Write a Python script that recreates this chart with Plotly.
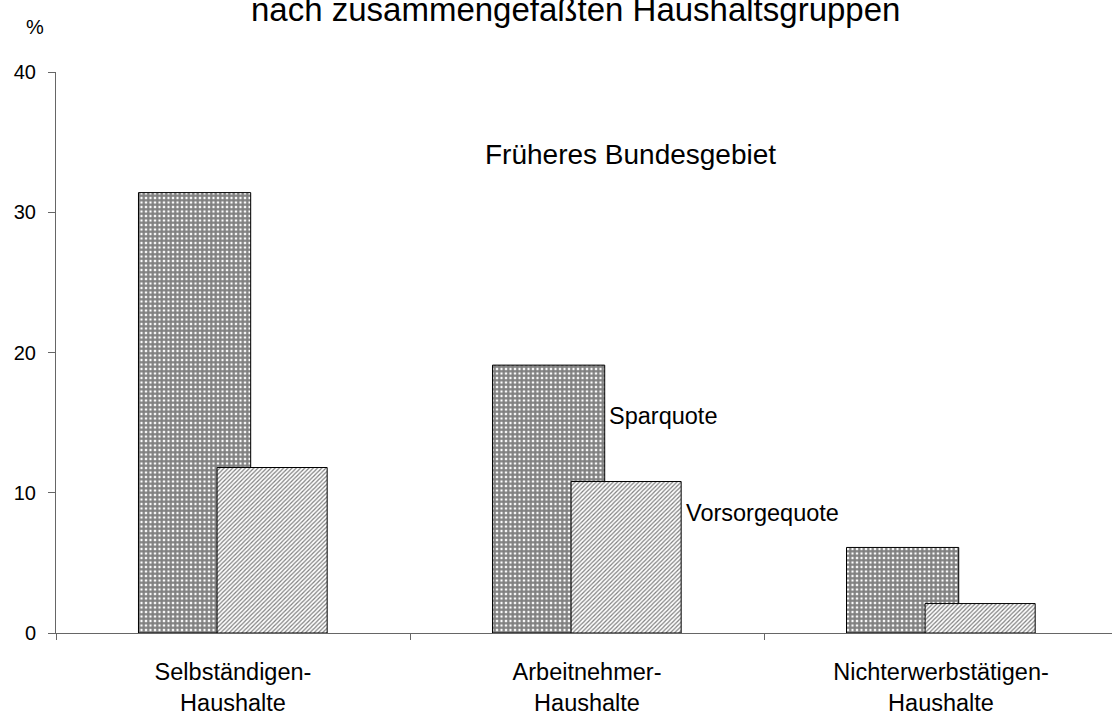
import plotly.graph_objects as go

categories = ["Selbständigen-<br>Haushalte", "Arbeitnehmer-<br>Haushalte", "Nichterwerbstätigen-<br>Haushalte"]
sparquote = [31.4, 19.1, 6.1]
vorsorgequote = [11.8, 10.8, 2.1]

FONT = "Liberation Sans, Arial, sans-serif"

fig = go.Figure()
fig.add_trace(go.Bar(
    x=categories, y=sparquote, name="Sparquote",
    offset=-0.267, width=0.317,
    marker=dict(color="white", line=dict(color="black", width=1),
                pattern=dict(shape="+", size=4.5, solidity=0.75, fgcolor="black", bgcolor="white")),
))
fig.add_trace(go.Bar(
    x=categories, y=vorsorgequote, name="Vorsorgequote",
    offset=-0.045, width=0.311,
    marker=dict(color="white", line=dict(color="black", width=1),
                pattern=dict(shape="/", size=3, solidity=0.4, fgcolor="black", bgcolor="white")),
))

fig.add_annotation(x=1.124, y=34.1, text="Früheres Bundesgebiet", showarrow=False,
                   font=dict(size=28, color="black", family=FONT), xanchor="center", yanchor="middle")
fig.add_annotation(x=1.057, y=15.5, text="Sparquote", showarrow=False,
                   font=dict(size=23.5, color="black", family=FONT), xanchor="left", yanchor="middle")
fig.add_annotation(x=1.275, y=8.56, text="Vorsorgequote", showarrow=False,
                   font=dict(size=23.5, color="black", family=FONT), xanchor="left", yanchor="middle")
fig.add_annotation(x=-0.02, y=1.08, xref="paper", yref="paper", text="%", showarrow=False,
                   font=dict(size=20, color="black", family=FONT), xanchor="center", yanchor="middle")
fig.add_annotation(x=0.492, y=1.112, xref="paper", yref="paper",
                   text="nach zusammengefaßten Haushaltsgruppen", showarrow=False,
                   font=dict(size=33, color="black", family=FONT), xanchor="center", yanchor="middle")

fig.update_layout(
    width=1112, height=715,
    margin=dict(l=56, r=0, t=72, b=82),
    paper_bgcolor="white", plot_bgcolor="white",
    barmode="overlay", showlegend=False,
    font=dict(family=FONT, color="black", size=20),
)
fig.update_xaxes(
    type="category", range=[-0.5, 2.483], tickson="boundaries",
    ticks="outside", ticklen=6, tickcolor="#666", showline=True, linecolor="#666", linewidth=1,
    showgrid=False, tickfont=dict(size=23.5, family=FONT, color="black"), ticklabelstandoff=18,
)
fig.update_yaxes(
    range=[0, 40], tickvals=[0, 10, 20, 30, 40], ticks="outside", ticklen=7, tickcolor="#666",
    showline=True, linecolor="#666", linewidth=1, showgrid=False, zeroline=False,
    tickfont=dict(size=20, family=FONT, color="black"), ticklabelstandoff=8,
)

fig.write_html("out.html", config={"displayModeBar": False},
               post_script="document.body.style.margin='0';")
